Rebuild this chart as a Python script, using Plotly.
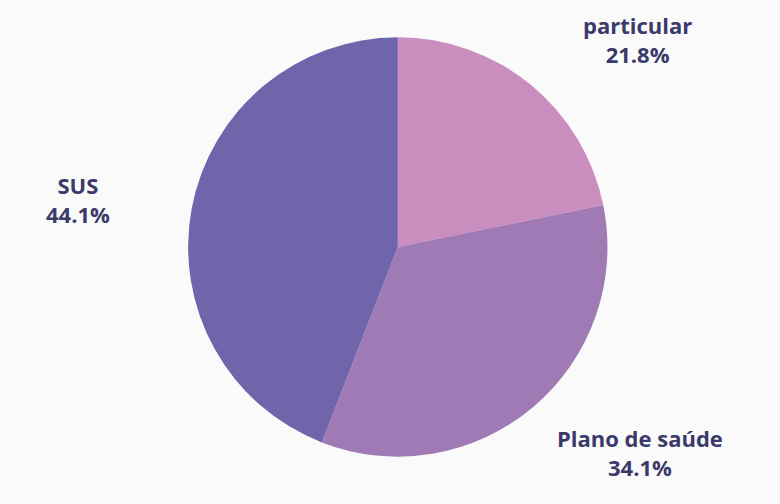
import plotly.graph_objects as go

labels = ["particular", "Plano de saúde", "SUS"]
values = [21.8, 34.1, 44.1]
colors = ["#C98DBE", "#9F7AB5", "#7064AB"]
# label anchor positions (paper coords) for the outside labels
label_x = [0.817, 0.821, 0.100]
label_y = [0.921, 0.103, 0.605]

fig = go.Figure()
fig.add_trace(go.Pie(
    labels=labels,
    values=values,
    sort=False,
    direction="clockwise",
    rotation=0,
    marker=dict(colors=colors, line=dict(width=0)),
    textinfo="none",
    hoverinfo="label+percent",
    showlegend=False,
    domain=dict(x=[0.2, 0.82], y=[0.094, 0.926]),
))

for lab, val, x, y in zip(labels, values, label_x, label_y):
    fig.add_annotation(
        x=x, y=y, xref="paper", yref="paper",
        xanchor="center", yanchor="middle",
        text=f"{lab}<br>{val:.1f}%",
        showarrow=False,
        align="center",
        font=dict(family="Open Sans", size=22, color="#3B3A6B", weight=700),
    )

fig.update_layout(
    width=780, height=504,
    margin=dict(l=0, r=0, t=0, b=0),
    paper_bgcolor="#FAFAFA",
    plot_bgcolor="#FAFAFA",
)

fig.write_html("out.html")
